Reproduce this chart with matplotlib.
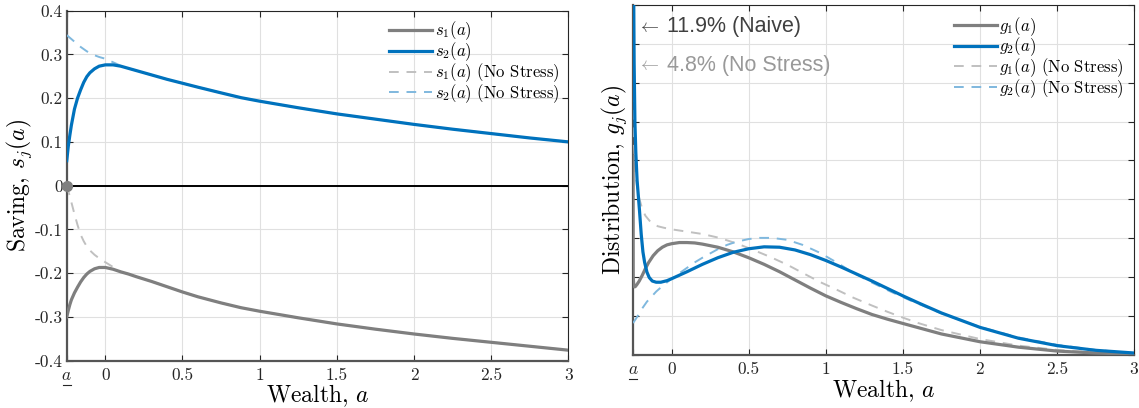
import numpy as np
import matplotlib
matplotlib.use("Agg")
import matplotlib.pyplot as plt

plt.rcParams['mathtext.fontset'] = 'cm'
plt.rcParams['font.family'] = 'cmr10'
plt.rcParams['axes.unicode_minus'] = False
plt.rcParams['axes.formatter.use_mathtext'] = True

# ------------------------------------------------------------
# Datos
# ------------------------------------------------------------
A_MIN = -0.25

# Ahorro s_j(a)
a_s = [-0.25, -0.24, -0.23, -0.22, -0.20, -0.18, -0.16, -0.14, -0.12, -0.10, -0.07,
       -0.04, 0.00, 0.05, 0.10, 0.15, 0.20, 0.30, 0.40, 0.50, 0.60, 0.75, 0.88, 1.00,
       1.25, 1.50, 1.75, 2.00, 2.25, 2.50, 2.75, 3.00]
s2 = [0.057, 0.090, 0.115, 0.138, 0.175, 0.200, 0.219, 0.236, 0.249, 0.258, 0.267,
      0.273, 0.276, 0.276, 0.273, 0.268, 0.263, 0.253, 0.243, 0.234, 0.225, 0.212, 0.201, 0.193,
      0.178, 0.164, 0.152, 0.140, 0.129, 0.119, 0.109, 0.100]
s2_ns = [0.344, 0.341, 0.338, 0.335, 0.329, 0.323, 0.317, 0.312, 0.307, 0.303, 0.298,
         0.294, 0.290, 0.282, 0.274, 0.268, 0.263, 0.253, 0.243, 0.234, 0.225, 0.212, 0.201, 0.193,
         0.178, 0.164, 0.152, 0.140, 0.129, 0.119, 0.109, 0.100]
s1 = [-0.300, -0.285, -0.272, -0.261, -0.245, -0.232, -0.220, -0.210, -0.202, -0.196, -0.190,
      -0.187, -0.187, -0.191, -0.197, -0.202, -0.208, -0.219, -0.231, -0.243, -0.254, -0.268, -0.279, -0.287,
      -0.302, -0.316, -0.328, -0.339, -0.349, -0.358, -0.367, -0.376]
s1_ns = [0.000, -0.012, -0.025, -0.038, -0.065, -0.090, -0.112, -0.127, -0.139, -0.148, -0.158,
         -0.166, -0.175, -0.186, -0.197, -0.202, -0.208, -0.219, -0.231, -0.243, -0.254, -0.268, -0.279, -0.287,
         -0.302, -0.316, -0.328, -0.339, -0.349, -0.358, -0.367, -0.376]

# Distribución g_j(a)
a_g2 = [-0.25, -0.247, -0.243, -0.238, -0.232, -0.224, -0.216, -0.208, -0.197, -0.186,
        -0.175, -0.16, -0.145, -0.125, -0.10, -0.07, -0.03, 0.00, 0.05, 0.10, 0.20, 0.30,
        0.40, 0.50, 0.60, 0.70, 0.80, 0.90, 1.00, 1.10, 1.20, 1.30, 1.40, 1.50, 1.60,
        1.75, 2.00, 2.25, 2.50, 2.75, 3.00]
g2 = [2.0, 1.0, 0.75, 0.60, 0.52, 0.45, 0.41, 0.37, 0.31, 0.265,
      0.238, 0.213, 0.199, 0.190, 0.187, 0.187, 0.191, 0.196, 0.205, 0.214, 0.233, 0.250,
      0.264, 0.273, 0.278, 0.277, 0.270, 0.258, 0.243, 0.226, 0.208, 0.190, 0.171, 0.152, 0.134,
      0.108, 0.071, 0.043, 0.024, 0.012, 0.005]

a_g1 = [-0.25, -0.249, -0.245, -0.24, -0.235, -0.225, -0.21, -0.19, -0.17, -0.15, -0.12,
        -0.09, -0.06, -0.03, 0.00, 0.05, 0.10, 0.15, 0.20, 0.30, 0.40, 0.50, 0.60, 0.70,
        0.80, 0.90, 1.00, 1.10, 1.20, 1.30, 1.40, 1.50, 1.75, 2.00, 2.25, 2.50, 2.75, 3.00]
g1 = [0.51, 0.20, 0.177, 0.175, 0.176, 0.181, 0.190, 0.205, 0.222, 0.237, 0.255,
      0.268, 0.277, 0.283, 0.286, 0.289, 0.289, 0.288, 0.285, 0.277, 0.265, 0.250, 0.233, 0.214,
      0.193, 0.172, 0.152, 0.135, 0.119, 0.104, 0.092, 0.081, 0.054, 0.034, 0.020, 0.010, 0.005, 0.002]

a_g1ns = [-0.25, -0.247, -0.243, -0.237, -0.23, -0.22, -0.208, -0.19, -0.17, -0.143, -0.12,
          -0.09, -0.05, 0.00, 0.10, 0.20, 0.31, 0.42, 0.53, 0.64, 0.75, 0.85, 0.96, 1.07,
          1.18, 1.30, 1.40, 1.50, 1.60, 1.75, 2.00, 2.25, 2.50, 2.75, 3.00]
g1_ns = [0.90, 0.62, 0.54, 0.48, 0.45, 0.42, 0.40, 0.375, 0.358, 0.345, 0.338,
         0.331, 0.327, 0.323, 0.317, 0.311, 0.301, 0.287, 0.270, 0.252, 0.232, 0.211, 0.188, 0.168,
         0.147, 0.127, 0.111, 0.096, 0.082, 0.064, 0.041, 0.024, 0.013, 0.006, 0.002]

a_g2ns = [-0.25, -0.22, -0.19, -0.16, -0.13, -0.10, -0.06, -0.01, 0.05, 0.10, 0.15,
          0.20, 0.25, 0.30, 0.36, 0.42, 0.50, 0.57, 0.65, 0.75, 0.85, 0.96, 1.07, 1.18,
          1.30, 1.42, 1.55, 1.75, 2.00, 2.25, 2.50, 2.75, 3.00]
g2_ns = [0.082, 0.100, 0.120, 0.137, 0.150, 0.163, 0.177, 0.193, 0.210, 0.224, 0.238,
         0.250, 0.261, 0.272, 0.283, 0.291, 0.298, 0.301, 0.301, 0.296, 0.283, 0.263, 0.238, 0.211,
         0.186, 0.163, 0.140, 0.107, 0.072, 0.045, 0.026, 0.013, 0.005]

x_ticks = [A_MIN, 0, 0.5, 1, 1.5, 2, 2.5, 3]
x_ticklabels = [r'$a$', '0', '0.5', '1', '1.5', '2', '2.5', '3']
s_yticks = [-0.4, -0.3, -0.2, -0.1, 0, 0.1, 0.2, 0.3, 0.4]
s_yticklabels = ['-0.4', '-0.3', '-0.2', '-0.1', '0', '0.1', '0.2', '0.3', '0.4']
g_yticks = [0.1 * k for k in range(10)]

# ------------------------------------------------------------
# Estilo
# ------------------------------------------------------------
BLUE = '#0072BD'
GRAY = '#7F7F7F'
LBLUE = '#7FB8DE'
LGRAY = '#C0C0C0'
LW = 2.3
LWD = 1.4
DASH = (0, (5, 4))
SANS = ['Liberation Sans', 'DejaVu Sans']


def style_axes(ax):
    ax.set_xlim(A_MIN, 3)
    ax.set_xticks(x_ticks)
    ax.set_xticklabels(x_ticklabels)
    ax.grid(True, color='#E0E0E0', linewidth=0.8)
    ax.set_axisbelow(True)
    ax.tick_params(direction='in', length=4.5, width=0.8, colors='#262626',
                   labelsize=12.5, top=True, right=True)
    ax.tick_params(axis='x', pad=5)
    ax.tick_params(axis='y', pad=3)
    for sp in ax.spines.values():
        sp.set_color('#262626')
        sp.set_linewidth(0.8)
    for s in ('left', 'bottom'):
        ax.spines[s].set_linewidth(1.6)
        ax.spines[s].set_color('#555555')
    ax.set_xlabel(r'Wealth, $a$', fontsize=17, labelpad=0)


def legend_handles():
    return [plt.Line2D([], [], color=GRAY, lw=LW),
            plt.Line2D([], [], color=BLUE, lw=LW),
            plt.Line2D([], [], color=LGRAY, lw=LWD, ls=DASH),
            plt.Line2D([], [], color=LBLUE, lw=LWD, ls=DASH)]


fig = plt.figure(figsize=(11.39, 4.08), dpi=100)
ax1 = fig.add_axes([0.0586, 0.116, 0.4403, 0.858])
ax2 = fig.add_axes([0.5558, 0.130, 0.4399, 0.858])

# ---- Ahorro
style_axes(ax1)
ax1.set_ylim(-0.4, 0.4)
ax1.set_yticks(s_yticks)
ax1.set_yticklabels(s_yticklabels)
ax1.axhline(0, color='black', linewidth=1.4, zorder=2)
ax1.plot(a_s, s1_ns, color=LGRAY, lw=LWD, ls=DASH, zorder=3)
ax1.plot(a_s, s2_ns, color=LBLUE, lw=LWD, ls=DASH, zorder=3)
ax1.plot(a_s, s1, color=GRAY, lw=LW, zorder=4)
ax1.plot(a_s, s2, color=BLUE, lw=LW, zorder=4)
ax1.plot([A_MIN], [0], 'o', color=GRAY, ms=7, zorder=6, clip_on=False)
ax1.legend(legend_handles(),
           [r'$s_1(a)$', r'$s_2(a)$', r'$s_1(a)$ (No Stress)', r'$s_2(a)$ (No Stress)'],
           loc='upper right', frameon=False, fontsize=12, handlelength=2.6,
           handletextpad=0.15, labelspacing=-0.11, borderaxespad=0.25,
           borderpad=0.3)
ax1.set_ylabel(r'Saving, $s_j(a)$', fontsize=17, labelpad=0)

# ---- Distribución
style_axes(ax2)
ax2.set_ylim(0, 0.9)
ax2.set_yticks(g_yticks)
ax2.set_yticklabels([])
ax2.plot(a_g1ns, g1_ns, color=LGRAY, lw=LWD, ls=DASH, zorder=3)
ax2.plot(a_g2ns, g2_ns, color=LBLUE, lw=LWD, ls=DASH, zorder=3)
ax2.plot(a_g1, g1, color=GRAY, lw=LW, zorder=4)
ax2.plot(a_g2, g2, color=BLUE, lw=LW, zorder=5)
ax2.legend(legend_handles(),
           [r'$g_1(a)$', r'$g_2(a)$', r'$g_1(a)$ (No Stress)', r'$g_2(a)$ (No Stress)'],
           loc='upper right', frameon=False, fontsize=12, handlelength=2.6,
           handletextpad=0.15, labelspacing=-0.12, borderaxespad=0.3,
           borderpad=0.3)
ax2.set_ylabel(r'Distribution, $g_j(a)$', fontsize=17, labelpad=0)

# anotaciones de masa en la restricción
for ypos, txt, col in [(0.937, '11.9% (Naive)', '#404040'),
                       (0.826, '4.8% (No Stress)', '#999999')]:
    ax2.text(0.008, ypos, r'$\leftarrow$', transform=ax2.transAxes,
             fontsize=13, color=col, va='center', ha='left')
    ax2.text(0.068, ypos, txt, transform=ax2.transAxes, family=SANS,
             fontsize=15.5, color=col, va='center', ha='left')

# subrayado de la etiqueta a_min (mathtext no tiene \underline)
fig.canvas.draw()
for ax in (ax1, ax2):
    lab = ax.get_xticklabels()[0]
    bb = lab.get_window_extent().transformed(fig.transFigure.inverted())
    y = bb.y0 - 0.004
    fig.add_artist(plt.Line2D([bb.x0 + 0.001, bb.x1 - 0.001], [y, y],
                              color='#262626', lw=0.8, transform=fig.transFigure))

fig.savefig('out.png', dpi=100)
